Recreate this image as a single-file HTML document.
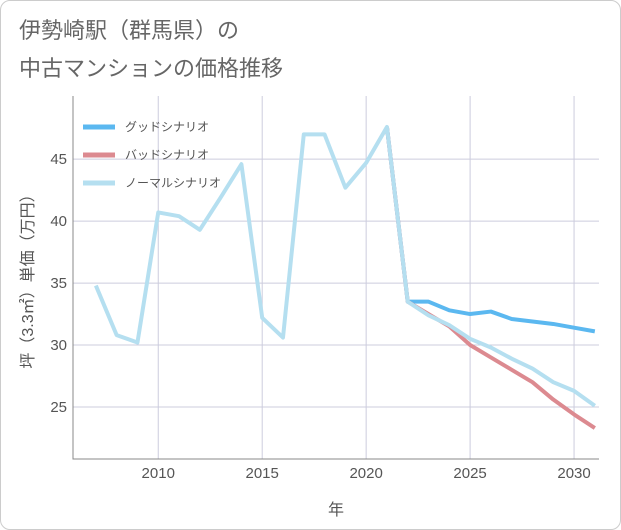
<!DOCTYPE html>
<html><head><meta charset="utf-8"><style>
body{margin:0;background:#fff;font-family:"Liberation Sans","Noto Sans CJK JP",sans-serif}
#c{position:relative;width:619px;height:528px;border:1px solid #ccc;border-radius:10px;overflow:hidden;background:#fff}
.t{position:absolute;left:18px;font-size:22px;color:#666;line-height:32px}
svg{position:absolute;left:0;top:0}
text{font-family:"Liberation Sans","Noto Sans CJK JP",sans-serif}
</style></head><body>
<div id="c">
<div class="t" style="top:14px">伊勢崎駅（群馬県）の</div>
<div class="t" style="top:52px">中古マンションの価格推移</div>
<svg id="s" width="621" height="530"></svg>
</div>
<script>
const years=[2007,2008,2009,2010,2011,2012,2013,2014,2015,2016,2017,2018,2019,2020,2021,2022,2023,2024,2025,2026,2027,2028,2029,2030,2031];
const normalVals=[34.8,30.8,30.2,40.7,40.4,39.3,41.9,44.6,32.2,30.6,47.0,47.0,42.7,44.7,47.6,33.5,32.4,31.6,30.5,29.8,28.9,28.1,27.0,26.3,25.1];
const futYears=[2021,2022,2023,2024,2025,2026,2027,2028,2029,2030,2031];
const goodVals=[47.6,33.5,33.5,32.8,32.5,32.7,32.1,31.9,31.7,31.4,31.1];
const badVals=[47.6,33.5,32.5,31.5,30.0,29.0,28.0,27.0,25.6,24.4,23.3];
const xTicks=[2010,2015,2020,2025,2030];
const yTicks=[25,30,35,40,45];
const X0=72,X1=598,Y0=95,Y1=458,xmin=2005.9,xmax=2031.2,ymin=20.8,ymax=50.1;
const xs=v=>X0+(v-xmin)/(xmax-xmin)*(X1-X0);
const ys=v=>Y1-(v-ymin)/(ymax-ymin)*(Y1-Y0);
const s=document.getElementById('s');
const NS='http://www.w3.org/2000/svg';
function mk(t,a,p){const e=document.createElementNS(NS,t);for(const k in a)e.setAttribute(k,a[k]);(p||s).appendChild(e);return e;}
const grid=mk('g',{});


xTicks.forEach(v=>{
 const l=mk('line',{x1:xs(v),x2:xs(v),y1:Y0,y2:Y1,stroke:'#ccd',"stroke-width":1},grid);
 
 
 const t=mk('text',{x:xs(v),y:Y1+19,"text-anchor":"middle","font-size":15,fill:'#555'});
 t.textContent=v;
 
 
});
yTicks.forEach(v=>{
 const l=mk('line',{x1:X0,x2:X1,y1:ys(v),y2:ys(v),stroke:'#ccd',"stroke-width":1},grid);
 
 
 const t=mk('text',{x:X0-6,y:ys(v)+5,"text-anchor":"end","font-size":15,fill:'#555'});
 t.textContent=v;
 
 
});
const ax=mk('path',{d:`M${X0} ${Y0}V${Y1}H${X1}`,fill:'none',stroke:'#888'});


function line(xa,ya,col,name){
 const p=mk('polyline',{points:xa.map((x,i)=>xs(x)+','+ys(ya[i])).join(' '),fill:'none',stroke:col,"stroke-width":4,"stroke-linejoin":"round"});
 
 
}
line(futYears,goodVals,'#5bb8f0','good-scenario-line');
line(futYears,badVals,'#dc8a90','bad-scenario-line');
line(years,normalVals,'#b5dff0','normal-scenario-line');
const leg=[['グッドシナリオ','#5bb8f0'],['バッドシナリオ','#dc8a90'],['ノーマルシナリオ','#b5dff0']];
leg.forEach((d,i)=>{
 const y=126+i*28;
 const l=mk('line',{x1:82,x2:114,y1:y,y2:y,stroke:d[1],"stroke-width":5});
 
 
 const t=mk('text',{x:124,y:y+4,"font-size":12,fill:'#555'});
 t.textContent=d[0];
 
 
});
const xt=mk('text',{x:(X0+X1)/2,y:514,"text-anchor":"middle","font-size":16,fill:'#555'});
xt.textContent='年';


const yt=mk('text',{x:0,y:0,transform:`translate(32,${(Y0+Y1)/2}) rotate(-90)`,"text-anchor":"middle","font-size":16,fill:'#555'});
yt.textContent='坪（3.3㎡）単価（万円）';


</script>
</body></html>
